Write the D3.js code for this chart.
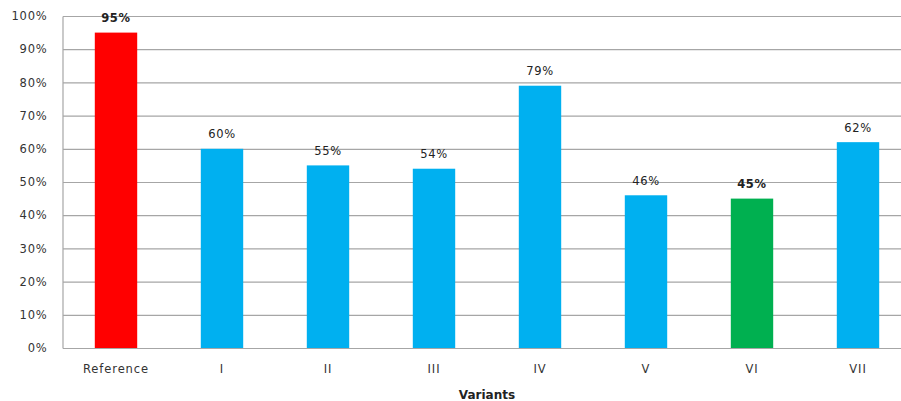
<!DOCTYPE html>
<html>
<head>
<meta charset="utf-8">
<script src="https://cdn.jsdelivr.net/npm/d3@7/dist/d3.min.js"></script>
<style>
  html, body { margin: 0; padding: 0; background: #fff; }
  svg { display: block; }
  text { font-family: "DejaVu Sans", Verdana, sans-serif; }
</style>
</head>
<body>
<svg id="chart" width="901" height="401"></svg>
<script>
// Variant scores (percent)
const categories = ["Reference", "I", "II", "III", "IV", "V", "VI", "VII"];
const values = [95, 60, 55, 54, 79, 46, 45, 62];
const barColors = ["#FF0000", "#00B0F0", "#00B0F0", "#00B0F0", "#00B0F0", "#00B0F0", "#00B050", "#00B0F0"];
const boldLabels = ["Reference", "VI"];
const yTicks = [0, 10, 20, 30, 40, 50, 60, 70, 80, 90, 100];
const xTitle = "Variants";

const svg = d3.select("#chart");
const W = 901;
const plotLeft = 63, plotTop = 16, plotBottom = 348, plotRight = 911;

const x = d3.scaleBand().domain(categories).range([plotLeft, plotRight]).paddingInner(0.6).paddingOuter(0.3);
const y = d3.scaleLinear().domain([0, 100]).range([plotBottom, plotTop]);

// Horizontal gridlines
svg.append("g")
  .selectAll("line")
  .data(yTicks)
  .join("line")
  .attr("x1", plotLeft).attr("x2", W)
  .attr("y1", d => y(d) + 0.5).attr("y2", d => y(d) + 0.5)
  .attr("stroke", "#A6A6A6").attr("stroke-width", 1.2);

// Y axis
const yAxis = svg.append("g")
  .attr("transform", `translate(${plotLeft - 0.5},0)`)
  .call(d3.axisLeft(y).tickValues(yTicks).tickFormat(d => d + "%").tickSize(0).tickPadding(15));
yAxis.select(".domain").attr("stroke", "#A6A6A6").attr("stroke-width", 1.2);
yAxis.selectAll("text")
  .attr("font-size", 11.5).attr("fill", "#333")
  .attr("letter-spacing", "0.8px")
  .attr("font-family", "DejaVu Sans, Verdana, sans-serif");

// Bars
svg.append("g")
  .selectAll("rect")
  .data(categories)
  .join("rect")
  .attr("x", d => x(d))
  .attr("width", x.bandwidth())
  .attr("y", (d, i) => y(values[i]))
  .attr("height", (d, i) => y(0) - y(values[i]))
  .attr("fill", (d, i) => barColors[i]);

// Value labels
svg.append("g")
  .selectAll("text")
  .data(categories)
  .join("text")
  .attr("x", d => x(d) + x.bandwidth() / 2)
  .attr("y", (d, i) => y(values[i]) - 10.5)
  .attr("text-anchor", "middle")
  .attr("font-size", 11.5)
  .attr("letter-spacing", "0.7px")
  .attr("font-weight", d => boldLabels.includes(d) ? "bold" : "normal")
  .attr("fill", "#222")
  .text((d, i) => values[i] + "%");

// X axis
const xAxis = svg.append("g")
  .attr("transform", `translate(0,${plotBottom})`)
  .call(d3.axisBottom(x).tickSize(0).tickPadding(17));
xAxis.select(".domain").remove();
xAxis.selectAll("text")
  .attr("font-size", 11.5).attr("fill", "#333")
  .attr("letter-spacing", "0.9px")
  .attr("font-family", "DejaVu Sans, Verdana, sans-serif");

// X axis title
svg.append("text")
  .attr("x", 487).attr("y", 399)
  .attr("text-anchor", "middle")
  .attr("font-size", 12)
  .attr("font-weight", "bold")
  .attr("fill", "#222")
  .text(xTitle);
</script>
</body>
</html>
